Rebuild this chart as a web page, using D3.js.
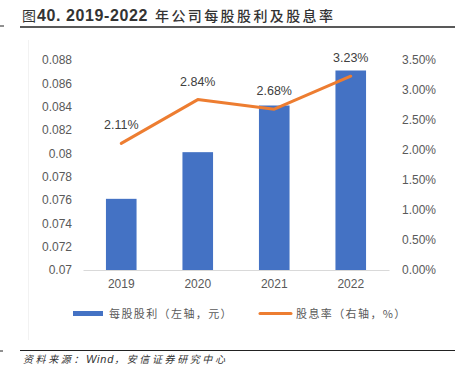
<!DOCTYPE html>
<html>
<head>
<meta charset="utf-8">
<script src="https://cdn.jsdelivr.net/npm/d3@7/dist/d3.min.js"></script>
<style>
  body { margin: 0; background: #fff; }
  svg text { font-family: "Liberation Sans", Arial, "Noto Sans CJK SC", sans-serif; }
</style>
</head>
<body>
<div id="chart"></div>
<script>
// dữ liệu
const years = ["2019", "2020", "2021", "2022"];
const dps = [0.0761, 0.0801, 0.0841, 0.0871];     // 每股股利 (元)
const yieldPct = [2.11, 2.84, 2.68, 3.23];        // 股息率 (%)
const leftTicks = [0.07, 0.072, 0.074, 0.076, 0.078, 0.08, 0.082, 0.084, 0.086, 0.088];
const rightTicks = [0, 0.5, 1, 1.5, 2, 2.5, 3, 3.5];

const W = 455, H = 377;
const svg = d3.select("#chart").append("svg")
    .attr("width", W).attr("height", H);

const cjk = '"Noto Sans CJK SC", sans-serif';
const latin = '"Liberation Sans", Arial, sans-serif';

// tiêu đề
svg.append("text")
    .attr("x", 22).attr("y", 21)
    .style("font-size", "14px").style("fill", "#333").style("font-family", cjk)
    .text("图");
svg.append("text")
    .attr("x", 37).attr("y", 21)
    .style("font-size", "16px").style("font-weight", "bold").style("fill", "#333")
    .style("font-family", latin).style("letter-spacing", "0.6px")
    .text("40. 2019-2022");
svg.append("text")
    .attr("x", 155).attr("y", 21)
    .style("font-size", "14px").style("fill", "#333").style("font-family", cjk)
    .style("letter-spacing", "2.4px").style("font-weight", "500")
    .text("年公司每股股利及股息率");

svg.append("line").attr("x1", 20).attr("x2", W).attr("y1", 27).attr("y2", 27)
    .attr("stroke", "#222").attr("stroke-width", 1.5);
svg.append("line").attr("x1", 0).attr("x2", 4).attr("y1", 26).attr("y2", 26)
    .attr("stroke", "#222").attr("stroke-width", 1);

// viền mờ bên trái
svg.append("line").attr("x1", 28.5).attr("x2", 28.5).attr("y1", 40).attr("y2", 340)
    .attr("stroke", "#f2f2f2");

const mTop = 60, mBottom = 270, mLeft = 83, mRight = 389;

const x = d3.scaleBand().domain(years).range([mLeft, mRight]).paddingInner(0.6).paddingOuter(0.3);
const yL = d3.scaleLinear().domain([0.07, 0.088]).range([mBottom, mTop]);
const yR = d3.scaleLinear().domain([0, 3.5]).range([mBottom, mTop]);

// trục trái
svg.append("g")
    .attr("transform", `translate(${mLeft - 11},0)`)
    .call(d3.axisLeft(yL).tickValues(leftTicks).tickSize(0).tickPadding(0)
        .tickFormat(d => String(+d.toFixed(3))))
    .call(g => g.select(".domain").remove())
    .selectAll("text")
    .style("font-size", "12px").style("fill", "#595959")
    .style("font-family", latin);

// trục phải
svg.append("g")
    .attr("transform", `translate(${mRight + 13},0)`)
    .call(d3.axisRight(yR).tickValues(rightTicks).tickSize(0).tickPadding(0)
        .tickFormat(d => d.toFixed(2) + "%"))
    .call(g => g.select(".domain").remove())
    .selectAll("text")
    .style("font-size", "12px").style("fill", "#595959")
    .style("font-family", latin);

// cột
svg.selectAll(".bar")
    .data(years)
    .join("rect")
    .attr("class", "bar")
    .attr("x", d => x(d))
    .attr("width", x.bandwidth())
    .attr("y", (d, i) => yL(dps[i]))
    .attr("height", (d, i) => mBottom - yL(dps[i]))
    .attr("fill", "#4472C4");

// trục hoành
svg.append("g")
    .attr("transform", `translate(0,${mBottom})`)
    .call(d3.axisBottom(x).tickSize(0).tickPadding(9))
    .call(g => g.select(".domain").attr("stroke", "#d9d9d9").attr("stroke-width", 1.2))
    .selectAll("text")
    .style("font-size", "12px").style("fill", "#595959")
    .style("font-family", latin);

// đường 股息率
const cx = d => x(d) + x.bandwidth() / 2;
const line = d3.line()
    .x(d => cx(d.year))
    .y(d => yR(d.v));
const pts = years.map((y, i) => ({ year: y, v: yieldPct[i] }));

svg.append("path")
    .datum(pts)
    .attr("d", line)
    .attr("fill", "none")
    .attr("stroke", "#ED7D31")
    .attr("stroke-width", 3)
    .attr("stroke-linecap", "round")
    .attr("stroke-linejoin", "round");

svg.selectAll(".lbl")
    .data(pts)
    .join("text")
    .attr("class", "lbl")
    .attr("x", d => cx(d.year))
    .attr("y", d => yR(d.v) - 14)
    .attr("text-anchor", "middle")
    .style("font-size", "12.5px").style("fill", "#404040")
    .style("font-family", latin)
    .text(d => d.v.toFixed(2) + "%");

// chú giải
svg.append("rect").attr("x", 73).attr("y", 311).attr("width", 30).attr("height", 5)
    .attr("fill", "#4472C4");
svg.append("text").attr("x", 109).attr("y", 317.5)
    .style("font-size", "11px").style("fill", "#595959").style("font-family", cjk)
    .style("letter-spacing", "1.4px")
    .text("每股股利（左轴，元）");
svg.append("line").attr("x1", 260).attr("x2", 291).attr("y1", 313.5).attr("y2", 313.5)
    .attr("stroke", "#ED7D31").attr("stroke-width", 3).attr("stroke-linecap", "round");
svg.append("text").attr("x", 296).attr("y", 317.5)
    .style("font-size", "11px").style("fill", "#595959").style("font-family", cjk)
    .style("letter-spacing", "1.4px")
    .text("股息率（右轴，%）");

// nguồn
svg.append("line").attr("x1", 20).attr("x2", W).attr("y1", 350.5).attr("y2", 350.5)
    .attr("stroke", "#222").attr("stroke-width", 1.2);
svg.append("line").attr("x1", 0).attr("x2", 3).attr("y1", 351).attr("y2", 351)
    .attr("stroke", "#222").attr("stroke-width", 1);
const src = svg.append("text").attr("x", 23).attr("y", 363)
    .style("font-size", "10px").style("fill", "#333").style("font-style", "italic")
    .style("font-family", cjk);
src.append("tspan").style("letter-spacing", "2.6px").text("资料来源：");
src.append("tspan").style("font-family", latin).style("font-size", "11px").style("letter-spacing", "0.8px").text("Wind");
src.append("tspan").style("letter-spacing", "2.6px").text("，安信证券研究中心");
</script>
</body>
</html>
